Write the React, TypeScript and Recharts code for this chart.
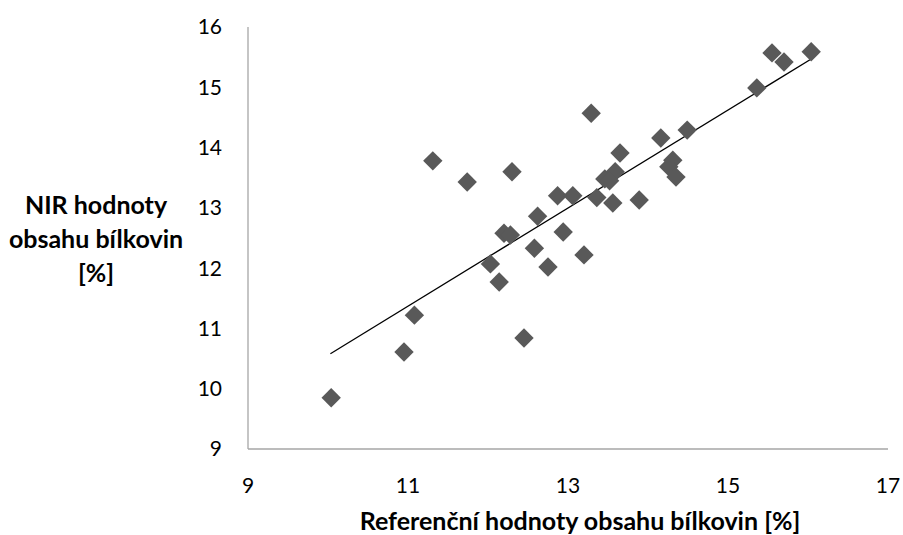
// NIR vs. reference protein content scatter. Recharts. Diamonds + linear trendline.

import { Label, Scatter, ScatterChart, XAxis, YAxis } from "recharts";

document.body.style.margin = "0";

const refValues = [
  10.04, 10.95, 11.08, 11.31, 11.74, 12.3, 12.03, 12.14, 12.2, 12.28, 12.45, 12.62,
  12.58, 12.75, 12.87, 13.06, 12.94, 13.2, 13.29, 13.36, 13.56, 13.89, 13.65, 13.46,
  13.59, 13.52, 14.16, 14.49, 14.31, 14.26, 14.35, 15.36, 15.55, 15.7, 16.04,
];
const nirValues = [
  9.85, 10.61, 11.22, 13.78, 13.43, 13.6, 12.07, 11.77, 12.58, 12.55, 10.84, 12.86,
  12.33, 12.02, 13.2, 13.2, 12.6, 12.22, 14.57, 13.17, 13.08, 13.13, 13.91, 13.48,
  13.6, 13.45, 14.16, 14.29, 13.79, 13.68, 13.51, 14.99, 15.57, 15.42, 15.59,
];
const trendX = [10.03, 16.04];
const trendY = [10.58, 15.47];
const xTicks = [9, 11, 13, 15, 17];
const yTicks = [9, 10, 11, 12, 13, 14, 15, 16];

const points = refValues.map((x, i) => ({ x, y: nirValues[i] }));
const trend = trendX.map((x, i) => ({ x, y: trendY[i] }));

const FONT = "Lato, 'Open Sans', sans-serif";

function Diamond(props: any) {
  const { cx, cy } = props;
  const r = 9.7;
  return (
    <polygon
      points={`${cx},${cy - r} ${cx + r},${cy} ${cx},${cy + r} ${cx - r},${cy}`}
      fill="#595959"
    />
  );
}

function YTitle() {
  return (
    <text fontFamily={FONT} fontSize={25} fontWeight={700} fill="#000" textAnchor="middle">
      <tspan x={96} y={214}>NIR hodnoty</tspan>
      <tspan x={96} y={248}>obsahu bílkovin</tspan>
      <tspan x={96} y={282}>[%]</tspan>
    </text>
  );
}

function XTitle() {
  return (
    <text x={580} y={530} fontFamily={FONT} fontSize={25} fontWeight={700} fill="#000" textAnchor="middle">
      Referenční hodnoty obsahu bílkovin [%]
    </text>
  );
}

export default function App() {
  return (
    <div style={{ width: 903, height: 535, background: "#fff" }}>
      <ScatterChart width={903} height={535} margin={{ top: 27, right: 15, left: 0, bottom: 0 }}>
        <XAxis
          type="number"
          dataKey="x"
          domain={[9, 17]}
          ticks={xTicks}
          height={86}
          axisLine={{ stroke: "#a6a6a6", strokeWidth: 1.3 }}
          tickLine={false}
          tickSize={6}
          tickMargin={23}
          tick={{ fill: "#000", fontSize: 21, fontFamily: FONT }}
          interval={0}
        >
          <Label content={<XTitle />} />
        </XAxis>
        <YAxis
          type="number"
          dataKey="y"
          domain={[9, 16]}
          ticks={yTicks}
          width={248}
          axisLine={{ stroke: "#a6a6a6", strokeWidth: 1.3 }}
          tickLine={false}
          tickSize={6}
          tickMargin={20}
          tick={{ fill: "#000", fontSize: 21, fontFamily: FONT }}
          interval={0}
        >
          <Label content={<YTitle />} />
        </YAxis>
        <Scatter
          data={trend}
          line={{ stroke: "#000", strokeWidth: 1.3 }}
          shape={() => <g />}
          isAnimationActive={false}
        />
        <Scatter data={points} shape={<Diamond />} isAnimationActive={false} />
      </ScatterChart>
    </div>
  );
}
